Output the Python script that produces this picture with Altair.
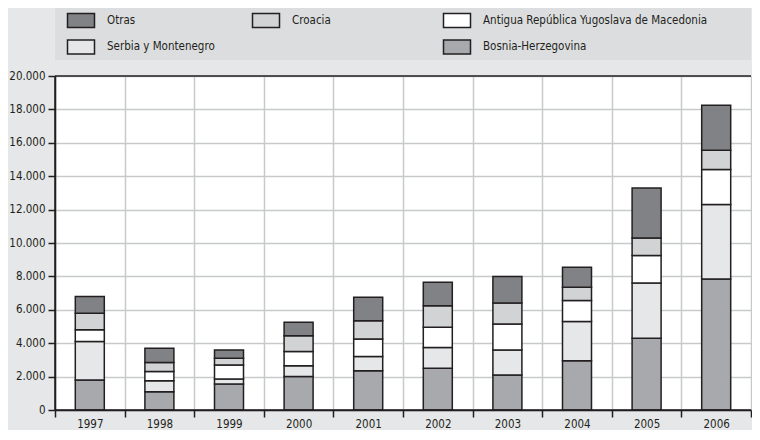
import altair as alt
import pandas as pd

# ---------------- data ----------------
years = ["1997", "1998", "1999", "2000", "2001", "2002", "2003", "2004", "2005", "2006"]

series_names = [
    "Bosnia-Herzegovina",
    "Serbia y Montenegro",
    "Antigua República Yugoslava de Macedonia",
    "Croacia",
    "Otras",
]
bosnia = [1800, 1100, 1550, 2000, 2350, 2500, 2100, 2950, 4300, 7850]
serbia = [2300, 650, 300, 650, 850, 1250, 1500, 2350, 3300, 4450]
macedonia = [700, 550, 850, 850, 1050, 1200, 1550, 1250, 1650, 2100]
croacia = [1000, 550, 400, 950, 1100, 1300, 1250, 800, 1050, 1150]
otras = [1000, 850, 500, 800, 1400, 1400, 1600, 1200, 3000, 2700]
series_values = [bosnia, serbia, macedonia, croacia, otras]
series_colors = ["#a7a9ac", "#e6e7e8", "#ffffff", "#d1d3d4", "#808285"]

legend_names = [
    "Otras",
    "Croacia",
    "Antigua República Yugoslava de Macedonia",
    "Serbia y Montenegro",
    "Bosnia-Herzegovina",
]
legend_cols = [0, 1, 2, 0, 2]
legend_rows = [0, 0, 0, 1, 1]

y_ticks = list(range(0, 20001, 2000))

# ---------------- styles ----------------
INK = "#231f20"
GRID = "#c8c9cb"
BG = "#e6e7e8"
BOXBG = "#dcdddf"
FONT = "DejaVu Sans Condensed"
W = 696
H = 334
LEG_H = 52

rows = []
for k, (name, vals) in enumerate(zip(series_names, series_values)):
    for yr, v in zip(years, vals):
        rows.append({"year": yr, "serie": name, "valor": v, "orden": k})
df = pd.DataFrame(rows)

color_scale = alt.Scale(domain=series_names, range=series_colors)
y_scale = alt.Scale(domain=[0, 20000], nice=False)
y_axis = alt.Axis(
    title=None, values=y_ticks, labelOverlap=False,
    labelExpr="replace(format(datum.value, ','), ',', '.')",
    grid=True, gridColor=GRID, gridWidth=1.5,
    domainColor=INK, domainWidth=1.5, tickColor=INK, tickWidth=1.5,
    tickSize=7, labelPadding=3, labelFont=FONT, labelFontSize=11.5,
    labelColor=INK,
)

# ---------------- bar chart ----------------
bars = alt.Chart(df).mark_bar(width=29, stroke=INK, strokeWidth=1.5).encode(
    x=alt.X(
        "year:O",
        sort=years,
        scale=alt.Scale(paddingInner=0, paddingOuter=0),
        axis=alt.Axis(
            title=None, labelAngle=0, tickBand="extent", grid=True,
            gridColor=GRID, gridWidth=1.5, domainColor=INK, domainWidth=1.5,
            tickColor=INK, tickWidth=1.5, tickSize=7, labelPadding=1,
            labelFont=FONT, labelFontSize=11.5, labelColor=INK,
        ),
    ),
    y=alt.Y("valor:Q", stack="zero", scale=y_scale, axis=y_axis),
    fill=alt.Fill("serie:N", scale=color_scale, legend=None),
    order=alt.Order("orden:Q", sort="ascending"),
)

hrules = alt.Chart(pd.DataFrame({"valor": [0, 20000]})).mark_rule(
    color=INK, strokeWidth=1.5
).encode(y=alt.Y("valor:Q", scale=y_scale, axis=y_axis))

vrule = alt.Chart(pd.DataFrame({"v": [0]})).mark_rule(
    color=INK, strokeWidth=1.5
).encode(x=alt.value(0), y=alt.value(0), y2=alt.value(H))

main = alt.layer(bars, hrules, vrule).properties(
    width=W, height=H, view=alt.ViewBackground(fill="white")
)

# ---------------- legend ----------------
leg_df = pd.DataFrame({"serie": legend_names, "col": legend_cols, "row": legend_rows})
lx = alt.X("col:Q", scale=alt.Scale(domain=[0, 1, 2], range=[26, 211, 402]), axis=None)
ly = alt.Y("row:Q", scale=alt.Scale(domain=[0, 1], range=[12.5, 39]), axis=None)

box = alt.Chart(pd.DataFrame({"a": [0]})).mark_rect(color=BOXBG).encode(
    x=alt.value(0), x2=alt.value(W), y=alt.value(0), y2=alt.value(LEG_H)
)

RECT_PATH = "M-1,-0.5185L1,-0.5185L1,0.5185L-1,0.5185Z"
symbols = alt.Chart(leg_df).mark_point(
    shape=RECT_PATH, size=729, filled=True, stroke=INK, strokeWidth=1.5, opacity=1
).encode(x=lx, y=ly, fill=alt.Fill("serie:N", scale=color_scale, legend=None))

labels = alt.Chart(leg_df).mark_text(
    align="left", baseline="middle", dx=26, font=FONT, fontSize=11.5, color=INK
).encode(x=lx, y=ly, text="serie:N")

legend = alt.layer(box, symbols, labels).properties(width=W, height=LEG_H)

chart = alt.vconcat(legend, main, spacing=10).properties(
    padding=0, background=BG
).configure_view(stroke=None)

chart.save("out.html", embed_options={"renderer": "svg", "actions": False})
